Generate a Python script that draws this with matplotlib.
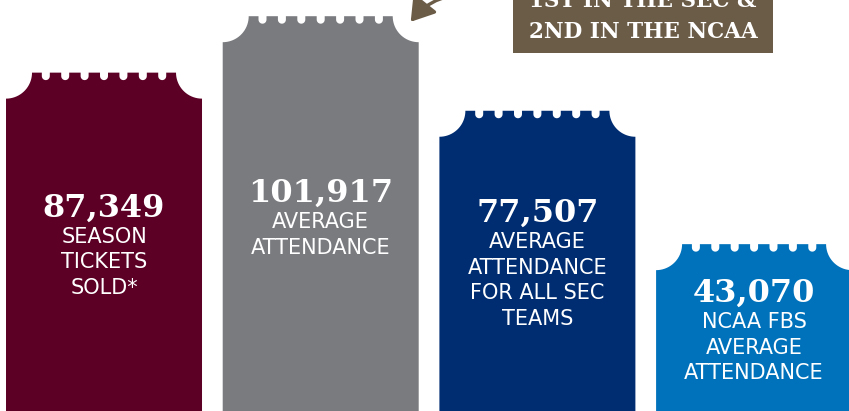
import numpy as np
import matplotlib.pyplot as plt
from matplotlib.patches import Polygon, FancyArrowPatch

# data
categories = ['Season tickets sold', 'Average attendance',
              'SEC average attendance', 'NCAA FBS average attendance']
values = [87349, 101917, 77507, 43070]
value_labels = ['87,349', '101,917', '77,507', '43,070']
captions = [['SEASON', 'TICKETS', 'SOLD*'],
            ['AVERAGE', 'ATTENDANCE'],
            ['AVERAGE', 'ATTENDANCE', 'FOR ALL SEC', 'TEAMS'],
            ['NCAA FBS', 'AVERAGE', 'ATTENDANCE']]
callout = ['1ST IN THE SEC &', '2ND IN THE NCAA']

colors = ['#5c0025', '#7a7b7f', '#002d72', '#0072bc']
brown = '#6b5c47'

# layout (pixels from top of the image)
num_baseline = [217, 202, 222, 302]
line_gap = 25.5

W, H = 849, 411
fig = plt.figure(figsize=(W / 100, H / 100), dpi=100)
ax = fig.add_axes([0, 0, 1, 1])
ax.set_xlim(-0.48, 3.438)
ax.set_ylim(0, 106100)
ax.axis('off')

to_px = ax.transData
to_data = ax.transData.inverted()
bw = 0.9045


def px(x, y):
    # pixel position (from top-left) -> data coords
    return to_data.transform((x, H - y))


def ticket(i, v, color):
    xl, yt = to_px.transform((i - bw / 2, v))
    xr, yb = to_px.transform((i + bw / 2, 0))
    r, nr, nd, step = 26, 4.0, 7.5, 19.4
    pts = [(xl, yb), (xl, yt - r)]
    t = np.radians(np.linspace(-90, 0, 20))
    pts += list(zip(xl + r * np.cos(t), yt + r * np.sin(t)))
    cx = (xl + xr) / 2
    t2 = np.radians(np.linspace(180, 360, 12))
    for k in range(7):
        c = cx + (k - 3) * step
        pts.append((c - nr, yt))
        pts += list(zip(c + nr * np.cos(t2), yt - nd + nr + nr * np.sin(t2)))
        pts.append((c + nr, yt))
    t = np.radians(np.linspace(180, 270, 20))
    pts += list(zip(xr + r * np.cos(t), yt + r * np.sin(t)))
    pts.append((xr, yb))
    ax.add_patch(Polygon(to_data.transform(pts), closed=True,
                         facecolor=color, edgecolor='none'))


for i, v in enumerate(values):
    ticket(i, v, colors[i])
    xc = to_px.transform((i, 0))[0]
    ax.text(*px(xc, num_baseline[i]), value_labels[i], ha='center', va='baseline',
            color='white', fontsize=23, fontweight='bold', family='DejaVu Serif')
    for j, line in enumerate(captions[i]):
        y = num_baseline[i] + 26 + j * line_gap
        ax.text(*px(xc, y), line, ha='center', va='baseline',
                color='white', fontsize=15, family='DejaVu Sans')

# callout box and arrow
box = [px(513, 53), px(773, 53), px(773, -5), px(513, -5)]
ax.add_patch(Polygon(box, closed=True, facecolor=brown, edgecolor='none'))
ax.text(*px(643, 7), callout[0], ha='center', va='baseline', color='white',
        fontsize=15.5, fontweight='bold', family='DejaVu Serif')
ax.text(*px(643, 38), callout[1], ha='center', va='baseline', color='white',
        fontsize=15.5, fontweight='bold', family='DejaVu Serif')

arrow = FancyArrowPatch(px(478, -4), px(409, 24), connectionstyle='arc3,rad=0.3',
                        arrowstyle='-|>,head_length=0.7,head_width=0.45',
                        mutation_scale=20, color=brown, lw=2.4)
ax.add_patch(arrow)

fig.savefig('out.png', dpi=100)
